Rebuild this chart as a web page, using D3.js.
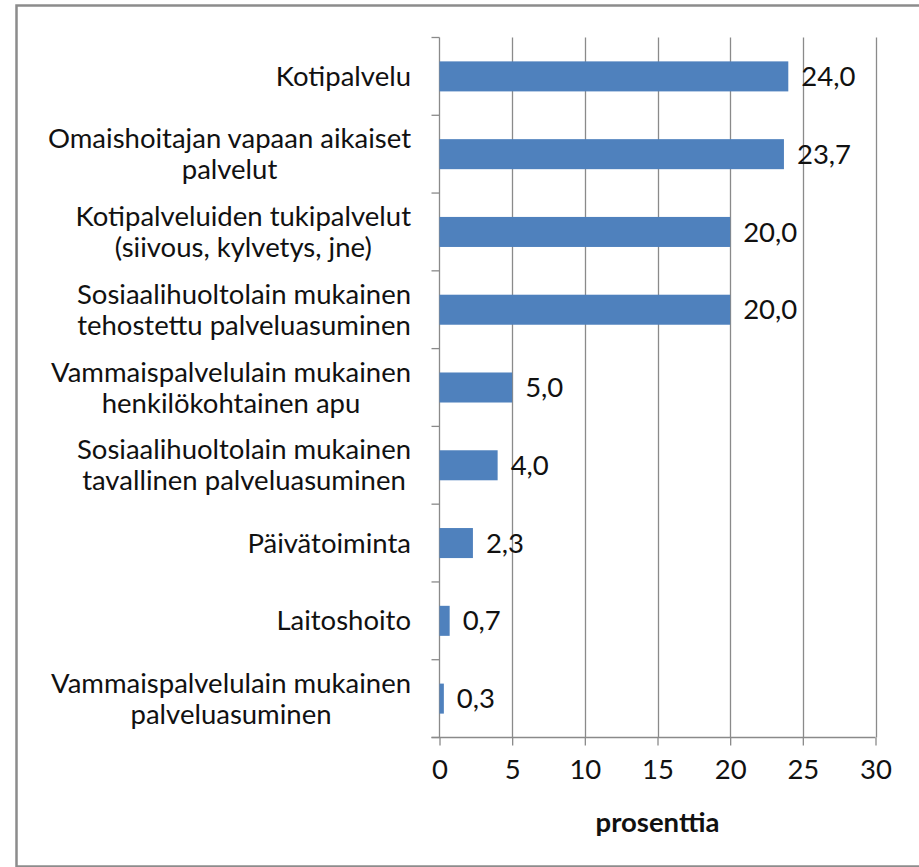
<!DOCTYPE html>
<html>
<head>
<meta charset="utf-8">
<script src="https://cdn.jsdelivr.net/npm/d3@7"></script>
<style>
  html, body { margin: 0; padding: 0; background: #ffffff; }
  svg { display: block; }
  text { font-family: Lato, "Open Sans", sans-serif; fill: #111111; }
</style>
</head>
<body>
<svg id="chart" width="919" height="867"></svg>
<script>
// ---- data ----
const categories = [
  "Kotipalvelu",
  "Omaishoitajan vapaan aikaiset\npalvelut",
  "Kotipalveluiden tukipalvelut\n(siivous, kylvetys, jne)",
  "Sosiaalihuoltolain mukainen\ntehostettu palveluasuminen",
  "Vammaispalvelulain mukainen\nhenkilökohtainen apu",
  "Sosiaalihuoltolain mukainen\ntavallinen palveluasuminen",
  "Päivätoiminta",
  "Laitoshoito",
  "Vammaispalvelulain mukainen\npalveluasuminen"
];
const values = [24.0, 23.7, 20.0, 20.0, 5.0, 4.0, 2.3, 0.7, 0.3];
const xTicks = [0, 5, 10, 15, 20, 25, 30];
const xTitle = "prosenttia";

// ---- layout ----
const svg = d3.select("#chart");
const plot = { left: 439.5, right: 875.5, top: 37.5, bottom: 737.5 };
const fontSize = 27.5;
const gridColor = "#8a8a8a";
const barColor = "#4f81bd";

// outer frame
svg.append("rect")
  .attr("x", 16.5).attr("y", 5.5)
  .attr("width", 1000).attr("height", 861)
  .attr("fill", "none").attr("stroke", "#8c8c8c").attr("stroke-width", 2.5);

const x = d3.scaleLinear().domain([0, 30]).range([plot.left, plot.right]);
const ySlot = d3.scaleBand().domain(d3.range(categories.length))
  .range([plot.top, plot.bottom]).paddingInner(0).paddingOuter(0);
const yBar = d3.scaleBand().domain(d3.range(categories.length))
  .range([plot.top, plot.bottom]).paddingInner(0.614).paddingOuter(0.307);

// vertical gridlines
svg.selectAll("line.grid").data(xTicks.filter(t => t > 0)).enter().append("line")
  .attr("class", "grid")
  .attr("x1", d => Math.round(x(d)) + 0.5).attr("x2", d => Math.round(x(d)) + 0.5)
  .attr("y1", plot.top).attr("y2", plot.bottom)
  .attr("stroke", gridColor).attr("stroke-width", 1.3);

// x axis
const xAxis = d3.axisBottom(x).tickValues(xTicks).tickSize(8).tickPadding(14)
  .tickFormat(d3.format("d"));
const xa = svg.append("g").attr("transform", `translate(0,${plot.bottom})`).call(xAxis);
xa.select(".domain").remove();
xa.selectAll(".tick line").attr("stroke", gridColor).attr("stroke-width", 1.3);
xa.selectAll(".tick text").attr("font-size", fontSize).attr("font-family", "Lato, sans-serif")
  .attr("fill", "#111");
svg.append("line")
  .attr("x1", plot.left - 8).attr("x2", plot.right)
  .attr("y1", plot.bottom).attr("y2", plot.bottom)
  .attr("stroke", gridColor).attr("stroke-width", 1.3);

// y axis line + category boundary ticks
svg.append("line")
  .attr("x1", plot.left).attr("x2", plot.left)
  .attr("y1", plot.top).attr("y2", plot.bottom)
  .attr("stroke", gridColor).attr("stroke-width", 1.3);
const bounds = d3.range(categories.length + 1).map(i =>
  i < categories.length ? ySlot(i) : ySlot(categories.length - 1) + ySlot.bandwidth());
svg.selectAll("line.ytick").data(bounds).enter().append("line")
  .attr("class", "ytick")
  .attr("x1", plot.left - 8).attr("x2", plot.left)
  .attr("y1", d => d).attr("y2", d => d)
  .attr("stroke", gridColor).attr("stroke-width", 1.3);

// bars
svg.selectAll("rect.bar").data(values).enter().append("rect")
  .attr("class", "bar")
  .attr("x", x(0))
  .attr("y", (d, i) => yBar(i))
  .attr("width", d => x(d) - x(0))
  .attr("height", yBar.bandwidth())
  .attr("fill", barColor);

// value labels
const fmt = d3.formatLocale({ decimal: ",", thousands: " ", grouping: [3], currency: ["", ""] }).format(".1f");
svg.selectAll("text.val").data(values).enter().append("text")
  .attr("class", "val")
  .attr("x", d => x(d) + 13)
  .attr("y", (d, i) => ySlot(i) + ySlot.bandwidth() / 2)
  .attr("dy", "0.35em")
  .attr("font-size", fontSize)
  .text(d => fmt(d));

// category labels (block right-aligned, lines centred within block)
const labelRight = 411;
const lineH = 31;
categories.forEach((c, i) => {
  const lines = c.split("\n");
  const cy = ySlot(i) + ySlot.bandwidth() / 2;
  const grp = svg.append("g");
  const texts = lines.map((ln, j) => grp.append("text")
    .attr("font-size", fontSize)
    .attr("y", cy + (j - (lines.length - 1) / 2) * lineH)
    .attr("dy", "0.35em")
    .attr("text-anchor", "middle")
    .text(ln));
  const maxW = d3.max(texts, t => t.node().getComputedTextLength());
  texts.forEach(t => t.attr("x", labelRight - maxW / 2));
});

// axis title
svg.append("text")
  .attr("x", (plot.left + plot.right) / 2)
  .attr("y", 822)
  .attr("dy", "0.35em")
  .attr("text-anchor", "middle")
  .attr("font-size", fontSize)
  .attr("font-weight", "bold")
  .text(xTitle);
</script>
</body>
</html>
